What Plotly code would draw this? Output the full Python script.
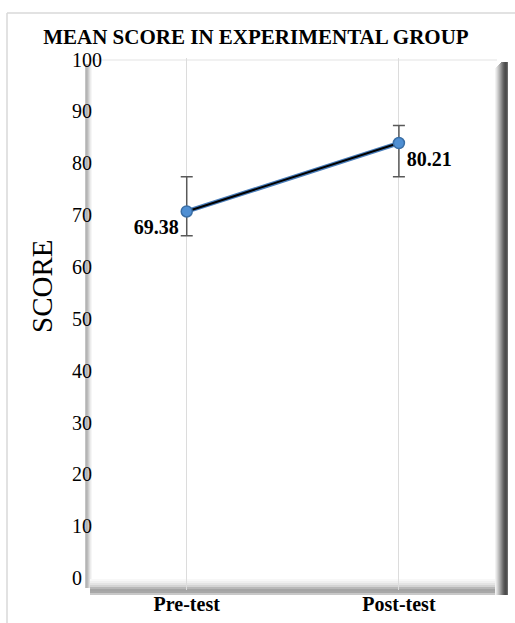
import plotly.graph_objects as go

# ---- data ----
categories = ["Pre-test", "Post-test"]
mean_score = [70.7, 83.9]          # plotted marker positions
label_text = ["69.38", "80.21"]    # data labels as printed on the chart
err_plus = [6.7, 3.4]
err_minus = [4.7, 6.5]
y_ticks = [0, 10, 20, 30, 40, 50, 60, 70, 80, 90, 100]

W, H = 515, 623
L, R, T, B = 66, 10, 58, 33
PW, PH = W - L - R, H - T - B


def px_x(px):
    return (px - L) / PW


def px_y(py):
    return (H - B - py) / PH


SERIF = "Liberation Serif, Times New Roman, serif"

fig = go.Figure()

fig.add_trace(go.Scatter(
    x=categories, y=mean_score, mode="lines",
    line=dict(color="#4a7ebb", width=4.5),
    error_y=dict(type="data", symmetric=False, array=err_plus, arrayminus=err_minus,
                 color="#595959", thickness=1.5, width=6),
    hoverinfo="skip", showlegend=False,
))
fig.add_trace(go.Scatter(
    x=categories, y=mean_score, mode="lines+markers+text",
    line=dict(color="#000000", width=2),
    marker=dict(size=11, color="#4f8fd3", line=dict(color="#3a6ea5", width=1.5)),
    text=[f"<b>{t}</b>" for t in label_text],
    textposition=["bottom left", "bottom right"],
    textfont=dict(family=SERIF, size=20, color="#000000"),
    showlegend=False,
))

shapes = []
# outer chart frame
shapes.append(dict(type="line", xref="paper", yref="paper", x0=px_x(7), x1=px_x(7),
                   y0=px_y(13), y1=px_y(623), line=dict(color="#d9d9d9", width=1.5), layer="below"))
shapes.append(dict(type="line", xref="paper", yref="paper", x0=px_x(7), x1=px_x(515),
                   y0=px_y(13), y1=px_y(13), line=dict(color="#d9d9d9", width=1.5), layer="below"))

# bevel: top thin line
shapes.append(dict(type="line", xref="paper", yref="paper", x0=px_x(90), x1=px_x(497),
                   y0=px_y(60), y1=px_y(60), line=dict(color="#ececec", width=1.5), layer="below"))
# left strip (gradient)
left_cols = ["#c4c4c4", "#b4b4b4", "#bcbcbc", "#cccccc", "#dddddd", "#ececec", "#f6f6f6"]
for i, c in enumerate(left_cols):
    shapes.append(dict(type="rect", xref="paper", yref="paper", x0=px_x(85 + i), x1=px_x(86 + i),
                       y0=px_y(588), y1=px_y(64), fillcolor=c, line=dict(width=0), layer="below"))
# bottom band (gradient)
bottom_rows = [(579, "#f8f8f8"), (581, "#f0f0f0"), (583, "#e4e4e4"), (585, "#d4d4d4"),
               (587, "#b8b8b8"), (589, "#a4a4a4"), (591, "#a8a8a8"), (593, "#c8c8c8")]
for yy, c in bottom_rows:
    shapes.append(dict(type="rect", xref="paper", yref="paper", x0=px_x(90), x1=px_x(505),
                       y0=px_y(yy + 2), y1=px_y(yy), fillcolor=c, line=dict(width=0), layer="below"))
# right strip (gradient to dark)
right_cols = ["#f2f2f2", "#e4e4e4", "#d4d4d4", "#c2c2c2", "#b0b0b0", "#9c9c9c", "#888888",
              "#747474", "#626262", "#545454", "#4c4c4c", "#505050", "#6a6a6a"]
for i, c in enumerate(right_cols):
    shapes.append(dict(type="rect", xref="paper", yref="paper", x0=px_x(495 + i), x1=px_x(496 + i),
                       y0=px_y(595), y1=px_y(62 + max(0, 6 - i)), fillcolor=c, line=dict(width=0),
                       layer="below"))

fig.update_layout(
    width=W, height=H,
    margin=dict(l=L, r=R, t=T, b=B, autoexpand=False),
    paper_bgcolor="white",
    plot_bgcolor="rgba(0,0,0,0)",
    title=dict(text="<b>MEAN SCORE IN EXPERIMENTAL GROUP</b>", x=0.497, xanchor="center",
               y=1 - 37 / H, yanchor="middle", yref="container",
               font=dict(family=SERIF, size=21, color="#000000")),
    xaxis=dict(domain=[px_x(87), px_x(505)], range=[-0.47, 1.5], showline=False, zeroline=False,
               showgrid=True, gridcolor="#dcdcdc", gridwidth=1, ticks="",
               tickfont=dict(family=SERIF, size=20, color="#000000"),
               tickvals=categories, ticktext=[f"<b>{c}</b>" for c in categories]),
    yaxis=dict(range=[-2.3, 100.3], anchor="free", position=0, showline=False, zeroline=False,
               showgrid=False, ticks="", tickvals=y_ticks, ticklabelposition="inside",
               ticklabeloverflow="allow", ticklabelstandoff=2,
               tickfont=dict(family=SERIF, size=20, color="#000000")),
    shapes=shapes,
    annotations=[dict(text="SCORE", xref="paper", yref="paper", x=px_x(42), y=px_y(287),
                      xanchor="center", yanchor="middle", textangle=-90, showarrow=False,
                      font=dict(family=SERIF, size=29, color="#000000"))],
    showlegend=False,
)

fig.write_html("out.html", config={"displayModeBar": False},
               post_script="document.body.style.margin='0';")
